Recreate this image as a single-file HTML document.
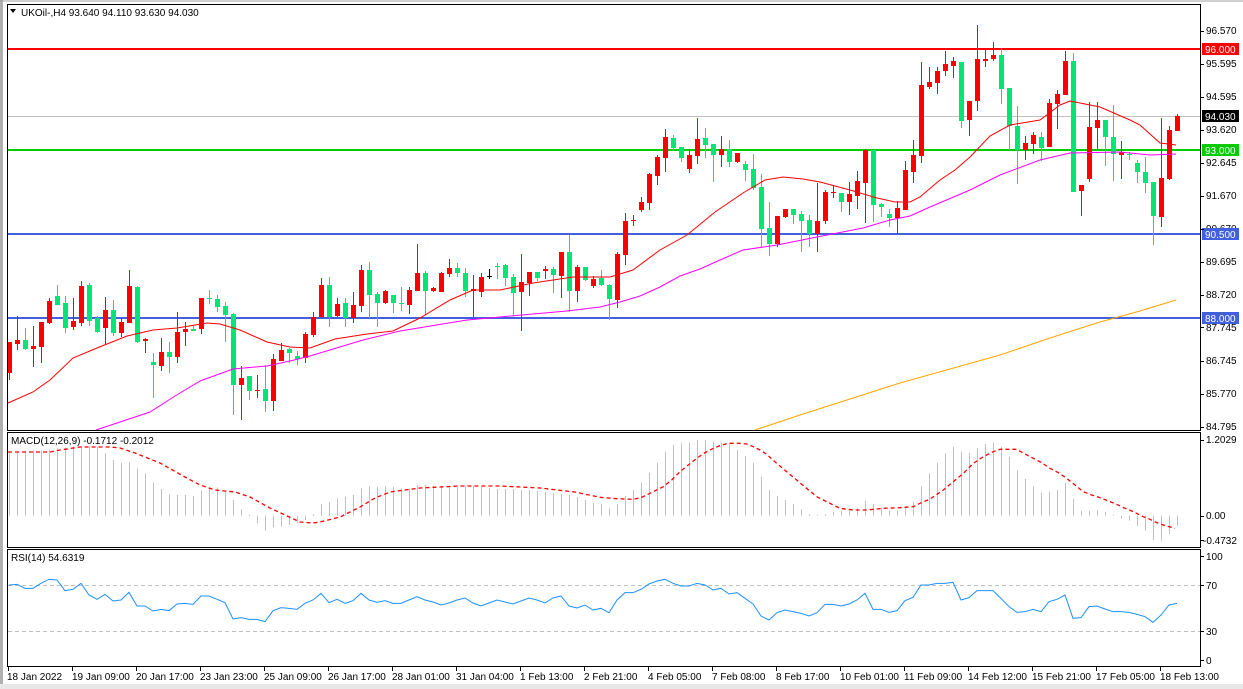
<!DOCTYPE html>
<html><head><meta charset="utf-8"><style>
html,body{margin:0;padding:0;background:#fff;width:1243px;height:689px;overflow:hidden}
svg{display:block;font-family:"Liberation Sans",Tahoma,sans-serif;font-size:10px}
</style></head><body>
<svg id="s" width="1243" height="689" viewBox="0 0 1243 689" xmlns="http://www.w3.org/2000/svg">
<rect x="0" y="0" width="1243" height="689" fill="#fff"/>
<rect x="0" y="0" width="3" height="689" fill="#b0b0b0"/>
<rect x="0" y="684" width="1243" height="5" fill="#e8e8e8"/>
<line x1="0" y1="1" x2="1243" y2="1" stroke="#a0a0a0"/>
<g id="lv"></g>
<g id="cd"></g>
<g id="ma"></g>
<g id="mc"></g>
<g id="rs"></g>
<g fill="none" stroke="#000" stroke-width="1">
<rect x="7.5" y="4.5" width="1193" height="426"/>
<rect x="7.5" y="432.5" width="1193" height="115"/>
<rect x="7.5" y="549.5" width="1193" height="117"/>
</g>
<path d="M10,9 L16,9 L13,13 Z" fill="#000"/>
<text x="21" y="16" fill="#000">UKOil-,H4  93.640 94.110 93.630 94.030</text>
<text x="11" y="444" fill="#000">MACD(12,26,9) -0.1712 -0.2012</text>
<text x="11" y="561" fill="#000">RSI(14) 54.6319</text>
<g fill="#000">
<text x="1206" y="34">96.570</text>
<text x="1206" y="67">95.595</text>
<text x="1206" y="100">94.595</text>
<text x="1206" y="133">93.620</text>
<text x="1206" y="166">92.645</text>
<text x="1206" y="199">91.670</text>
<text x="1206" y="232">90.670</text>
<text x="1206" y="265">89.695</text>
<text x="1206" y="298">88.720</text>
<text x="1206" y="331">87.745</text>
<text x="1206" y="364">86.745</text>
<text x="1206" y="397">85.770</text>
<text x="1206" y="430">84.795</text>
<text x="1206" y="443">1.2029</text>
<text x="1206" y="519">0.00</text>
<text x="1203" y="544">-0.4732</text>
<text x="1206" y="560">100</text>
<text x="1206" y="589">70</text>
<text x="1206" y="635">30</text>
<text x="1206" y="664">0</text>
</g>
<g>
<rect x="1202" y="43" width="37" height="12" fill="#ff0000"/><text x="1205" y="53" fill="#fff">96.000</text>
<rect x="1202" y="110" width="37" height="12" fill="#000"/><text x="1205" y="120" fill="#fff">94.030</text>
<rect x="1202" y="144" width="37" height="12" fill="#00cc00"/><text x="1205" y="154" fill="#fff">93.000</text>
<rect x="1202" y="228" width="37" height="12" fill="#4060e0"/><text x="1205" y="238" fill="#fff">90.500</text>
<rect x="1202" y="312" width="37" height="12" fill="#4060e0"/><text x="1205" y="322" fill="#fff">88.000</text>
</g>
<g fill="#000">
<text x="7" y="680">18 Jan 2022</text>
<text x="72" y="680">19 Jan 09:00</text>
<text x="136" y="680">20 Jan 17:00</text>
<text x="200" y="680">23 Jan 23:00</text>
<text x="264" y="680">25 Jan 09:00</text>
<text x="328" y="680">26 Jan 17:00</text>
<text x="392" y="680">28 Jan 01:00</text>
<text x="456" y="680">31 Jan 04:00</text>
<text x="520" y="680">1 Feb 13:00</text>
<text x="584" y="680">2 Feb 21:00</text>
<text x="648" y="680">4 Feb 05:00</text>
<text x="712" y="680">7 Feb 08:00</text>
<text x="776" y="680">8 Feb 17:00</text>
<text x="840" y="680">10 Feb 01:00</text>
<text x="904" y="680">11 Feb 09:00</text>
<text x="968" y="680">14 Feb 12:00</text>
<text x="1032" y="680">15 Feb 21:00</text>
<text x="1096" y="680">17 Feb 05:00</text>
<text x="1160" y="680">18 Feb 13:00</text>
</g>
<g id="tk"></g>
</svg>
<script>
var NS="http://www.w3.org/2000/svg";
function el(p,t,a){var e=document.createElementNS(NS,t);for(var k in a)e.setAttribute(k,a[k]);document.getElementById(p).appendChild(e);return e;}
el("lv","line",{x1:8,y1:116.5,x2:1201,y2:116.5,stroke:"#c0c0c0","stroke-width":1});
el("lv","line",{x1:8,y1:49,x2:1201,y2:49,stroke:"#ff0000","stroke-width":2});
el("lv","line",{x1:8,y1:150,x2:1201,y2:150,stroke:"#00cc00","stroke-width":2});
el("lv","line",{x1:8,y1:234,x2:1201,y2:234,stroke:"#4060e0","stroke-width":2});
el("lv","line",{x1:8,y1:318,x2:1201,y2:318,stroke:"#4060e0","stroke-width":2});
el("lv","line",{x1:8,y1:585.5,x2:1201,y2:585.5,stroke:"#c0c0c0","stroke-dasharray":"4,3"});
el("lv","line",{x1:8,y1:631.5,x2:1201,y2:631.5,stroke:"#c0c0c0","stroke-dasharray":"4,3"});
var C="342,373,342,380,r|340,344,316,350,r|340,349,328,350,g|346,349,326,367,r|322,347,322,363,r|301,323,298,324,r|296,305,285,305,g|303,328,296,333,g|321,327,298,330,r|286,323,281,326,r|285,321,283,326,g|318,332,316,333,g|310,328,297,344,r|310,333,300,336,g|322,333,318,337,r|286,323,270,323,r|287,342,286,343,g|339,341,338,353,r|362,365,353,398,g|352,366,338,371,r|352,357,342,373,g|332,357,312,363,r|329,332,322,346,r|329,331,325,331,g|298,329,298,334,r|298,299,290,304,g|299,307,295,312,g|306,315,302,342,g|314,385,313,415,g|378,385,366,420,r|376,391,376,400,g|390,391,375,398,r|389,401,365,412,g|359,401,354,411,r|350,361,343,361,r|349,353,348,363,g|356,359,351,365,g|334,358,332,363,r|317,335,312,337,r|285,317,278,318,r|285,317,277,327,g|304,316,298,317,r|303,318,298,327,g|305,318,292,323,r|270,306,265,312,r|270,295,262,318,g|294,303,292,327,g|291,303,290,304,r|295,303,295,313,g|303,304,287,311,g|290,305,287,314,r|273,291,244,291,r|273,291,271,315,g|288,291,287,292,r|273,292,272,292,r|268,274,259,277,r|268,273,263,277,g|273,291,268,297,g|289,291,275,318,r|277,292,273,297,r|276,277,269,279,k|266,267,263,279,g|265,278,264,286,g|277,293,274,316,g|282,292,254,331,r|272,283,272,296,r|272,278,272,281,g|269,271,266,279,r|269,275,267,293,g|252,276,252,298,r|252,291,235,312,g|267,291,265,302,r|267,280,267,281,g|279,286,276,288,r|278,285,270,286,g|285,299,284,320,g|254,300,252,308,r|221,255,213,265,r|220,221,215,226,r|202,210,197,212,r|174,203,173,210,r|157,176,155,185,r|137,158,129,172,r|138,148,135,151,g|147,158,147,162,g|155,169,149,173,r|139,156,118,164,r|138,145,128,158,g|144,155,144,182,g|149,155,136,167,r|149,162,140,167,g|153,162,153,163,r|164,170,161,181,g|169,188,154,190,g|187,229,174,247,g|228,244,202,256,g|216,244,216,247,r|209,217,209,218,r|209,215,209,224,g|214,221,211,252,g|220,234,215,247,g|221,234,183,252,r|192,221,190,224,r|192,193,186,198,r|193,202,193,212,g|194,202,182,215,r|181,196,171,209,r|150,183,149,223,r|150,205,150,222,g|204,207,203,217,g|214,218,209,227,g|208,218,201,234,r|170,210,161,210,r|155,172,140,183,r|85,156,62,163,r|82,87,67,89,r|71,83,67,94,r|64,71,51,76,r|61,66,57,78,r|62,121,62,128,g|101,120,101,136,r|59,101,25,111,r|59,61,48,67,r|55,59,42,61,r|55,89,48,104,g|88,126,88,150,g|126,150,106,184,g|143,150,136,160,r|135,144,132,154,r|137,148,132,161,g|103,147,99,147,r|94,104,90,129,r|61,95,51,95,r|61,192,53,192,g|185,191,185,216,r|127,179,102,182,r|120,128,102,150,r|120,137,120,166,g|137,154,105,181,g|152,155,141,179,r|154,155,152,160,g|163,172,160,183,g|172,183,157,193,g|182,216,182,245,g|178,217,118,227,r|130,179,126,180,r|116,131,114,131,r".split("|");
var col={r:"#ff0000",g:"#00e676",k:"#000"};
C.forEach(function(s,i){var a=s.split(",");var t=+a[0],b=+a[1],h=+a[2],l=+a[3],c=col[a[4]];var x=9+8*i;
 el("cd","line",{x1:x+0.5,y1:h,x2:x+0.5,y2:l,stroke:c,"stroke-width":1});
 if(b-t<1)b=t+1;
 el("cd","rect",{x:x-2,y:t,width:5,height:b-t,fill:c});
});
function pl(g,pts,st,w,da){var s=pts.map(function(p){return p[0]+","+p[1]}).join(" ");var a={points:s,fill:"none",stroke:st,"stroke-width":w||1};if(da)a["stroke-dasharray"]=da;el(g,"polyline",a);}
pl("ma",[[8,403],[33,392],[50,380],[73,358],[97,348],[127,336],[153,330],[177,328],[207,323],[220,324],[240,330],[267,342],[290,347],[310,348],[335,339],[367,334],[393,331],[420,318],[450,300],[473,290],[500,290],[533,283],[573,277],[610,277],[633,270],[660,250],[687,235],[715,212],[743,193],[765,180],[783,177],[803,179],[820,182],[850,190],[877,198],[895,202],[910,202],[920,197],[940,180],[955,170],[970,157],[990,136],[1010,125],[1040,120],[1060,105],[1070,101],[1100,107],[1130,120],[1140,125],[1160,143],[1176,145]],"#ff0000");
pl("ma",[[96,430],[120,422],[150,412],[175,396],[200,381],[233,369],[267,366],[290,361],[310,356],[363,340],[400,331],[467,320],[500,317],[533,314],[567,311],[600,307],[620,302],[640,296],[660,287],[680,276],[700,269],[720,260],[743,250],[777,245],[817,237],[863,228],[890,220],[910,216],[930,207],[970,190],[1000,175],[1040,160],[1070,153],[1120,152],[1150,155],[1176,154]],"#ff00ff");
pl("ma",[[755,430],[800,415],[850,399],[900,383],[950,369],[1000,355],[1050,338],[1100,322],[1140,311],[1176,300]],"#ffa500");
var h1=[97,95,92,90,90,88,85,83,80,78,80,80,100,120,128,125,145,160,188,207,222,225,225,228,212,205,202,215,240,268,284,310,332,322,320,315,310,300,283,252,245,235,230,225,205,198,200,198,200,205,205,195];
var H=h1.map(function(z){return 420+z/3;});
[485,486,486,487,487,486,486,487,488,489,489,489,490,490,491,492,493,494,495,497,500,503].forEach(function(y){H.push(y)});
var h2=[252,265,252,228,210,188,158,128,95,75,70,68,60,60,65,68,70,90,108,128,170,210,228,240,252,268,283,285,283,275,272,272,265,242,252,262,272,272,262,245,198,160,128,100,80,95,98,85,72,68];
h2.forEach(function(z){H.push(420+z/3);});
var h3=[50,80,120,147,168,188,185,180,158,207,242,242,240,246,257,265,272,288,302,330,332,312,288];
H=H.slice(0,124);
h3.forEach(function(z){H.push(430+z/3);});
var Z=515.7;
H.forEach(function(y,i){var x=9+8*i+0.5;if(Math.abs(y-Z)<0.8)y=Z-1;el("mc","line",{x1:x,y1:Z,x2:x,y2:y,stroke:"#c0c0c0","stroke-width":1});});
var sg=[[8,452],[50,452],[60,450],[80,447],[110,447],[120,448],[135,453],[160,463],[185,477],[200,485],[215,490],[235,492],[250,497],[270,508],[285,515],[300,522],[313,523],[320,522],[340,517],[360,507],[375,498],[390,492],[420,488],[460,486],[500,486],[540,488],[575,492]];
[[0,232],[50,236],[100,238],[125,232],[150,220],[190,200],[215,180],[240,155],[265,135],[290,115],[315,98],[340,85],[365,75],[385,70],[415,70],[440,72],[460,80],[480,90],[500,103],[530,130],[560,155],[590,180],[620,205],[650,230],[680,245],[720,265],[760,270],[800,270],[850,265],[900,263],[940,260],[960,250],[990,237],[1030,210],[1060,185],[1090,160],[1120,130],[1150,110],[1180,95],[1200,88]].forEach(function(p){sg.push([600+p[0]/3,420+p[1]/3]);});
[[50,58],[75,72],[100,85],[125,98],[150,115],[175,128],[200,145],[225,165],[250,185],[275,195],[300,203],[325,213],[350,223],[375,235],[400,245],[425,258],[450,268],[475,280],[500,288],[525,295]].forEach(function(p){sg.push([1000+p[0]/3,430+p[1]/3]);});
pl("mc",sg,"#ff0000",1.3,"4,3");
var r1=[495,493,505,505,490,478,480,512,508,490,525,538,523,543,540,517,558,558,573,568,572,552,550,553,528,528,538,548,597,593,598,598,605,572,563,565,568,550,540,520,548,538,550,542,520,540,547,542,550,550,540,530];
var R=r1.map(function(z){return 420+z/3;});
[600,602,605,603,600,598,603,606,603,600,602,604,601,598,600,603,598,596,606,608,605,610].forEach(function(y){R.push(y)});
var r2=[565,578,540,518,518,508,492,483,478,490,498,498,490,495,510,505,522,518,535,552,588,600,578,570,575,580,588,578,553,553,558,552,540,520,568,568,577,572,542,532,495,495,490,490,487,540,533,512,512,512];
r2.forEach(function(z){R.push(420+z/3);});
var r4=[505,530,547,545,538,545,515,508,495,565,563,530,528,537,545,545,547,553,560,577,555,525,520];
R=R.slice(0,124);
r4.forEach(function(z){R.push(430+z/3);});
pl("rs",R.map(function(y,i){return [9+8*i,y]}),"#1e90ff",1);
for(var k=0;k<19;k++){var x=8.5+64*k;el("tk","line",{x1:x,y1:667,x2:x,y2:671,stroke:"#000"});}
[31,64,97,130,163,196,229,262,295,327,361,394,427,440,516,540,556,585,631,660].forEach(function(y){el("tk","line",{x1:1201,y1:y+.5,x2:1204,y2:y+.5,stroke:"#000"});});
</script>
</body></html>
